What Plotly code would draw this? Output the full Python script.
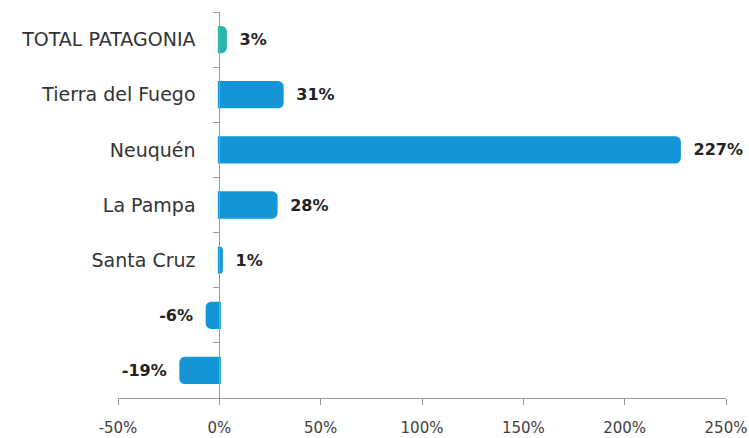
import plotly.graph_objects as go

categories = ["TOTAL PATAGONIA", "Tierra del Fuego", "Neuquén", "La Pampa", "Santa Cruz", "", ""]
values = [3, 31, 227, 28, 1, -6, -19]
bar_colors = ["#2ab3a9", "#1496d6", "#1496d6", "#1496d6", "#1496d6", "#1496d6", "#1496d6"]
x_ticks = [-50, 0, 50, 100, 150, 200, 250]
x_ticklabels = ["-50%", "0%", "50%", "100%", "150%", "200%", "250%"]

positions = list(range(len(categories)))
WIDE = "DejaVu Sans, Verdana, sans-serif"
NB = "\u00a0"

labels = [(f"{NB}{NB}{v}%" if v >= 0 else f"{v}%{NB}{NB}") for v in values]

fig = go.Figure(go.Bar(
    x=values,
    y=positions,
    orientation="h",
    marker=dict(color=bar_colors, line=dict(width=3, color=bar_colors)),
    text=labels,
    textposition="outside",
    textfont=dict(family=WIDE, size=16, color="#222222", weight="bold"),
    cliponaxis=False,
    width=0.44,
    hoverinfo="skip",
))

fig.update_layout(
    width=749, height=438,
    margin=dict(l=118, r=23, t=12, b=40),
    paper_bgcolor="white", plot_bgcolor="white",
    barcornerradius=4,
    showlegend=False,
    font=dict(family=WIDE, color="#333333"),
    xaxis=dict(
        range=[-50, 250], automargin=False,
        tickvals=x_ticks, ticktext=x_ticklabels,
        showgrid=False, zeroline=False,
        showline=True, linecolor="#999999", linewidth=1,
        ticks="outside", ticklen=6, tickcolor="#999999",
        ticklabelstandoff=10, ticklabeloverflow="allow",
        tickfont=dict(family=WIDE, size=15, color="#404040"),
    ),
    yaxis=dict(
        range=[6.5, -0.5], automargin=False,
        tickvals=positions, ticktext=categories,
        anchor="free", position=1/6,
        showgrid=False, zeroline=False,
        showline=True, linecolor="#999999", linewidth=1,
        ticks="", ticklabelstandoff=20,
        tickfont=dict(family=WIDE, size=19, color="#333333"),
        minor=dict(tickvals=[p - 0.5 for p in positions] + [6.5], ticks="outside",
                   ticklen=6, tickcolor="#999999", showgrid=False),
    ),
)

fig.write_html("out.html", config={"displayModeBar": False},
               post_script="document.body.style.margin='0';")
